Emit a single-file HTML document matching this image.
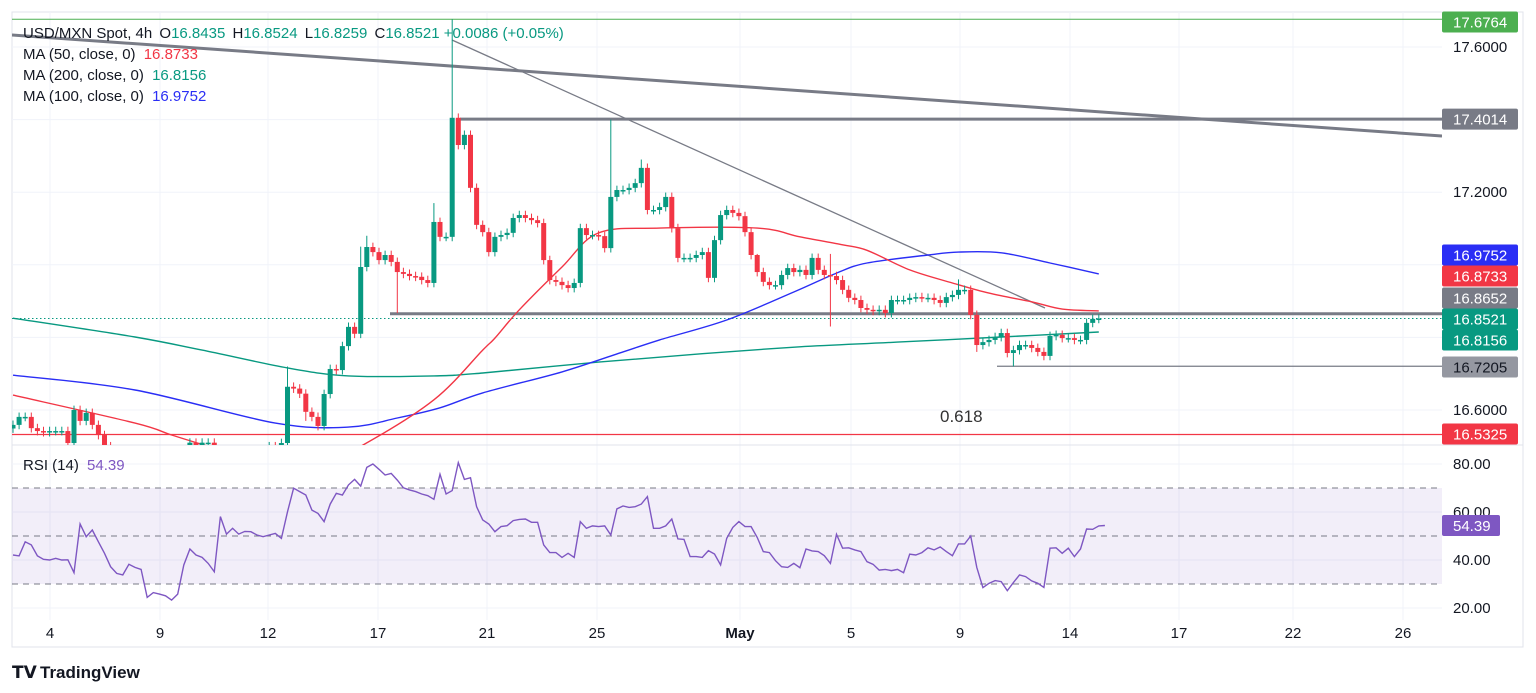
<!DOCTYPE html>
<html><head><meta charset="utf-8"><style>
html,body{margin:0;padding:0;background:#fff;}
svg{display:block;font-family:"Liberation Sans",sans-serif;}
</style></head><body>
<svg id="c" width="1536" height="693" viewBox="0 0 1536 693">
<defs><clipPath id="pclip"><rect x="12" y="12" width="1430" height="433"/></clipPath>
<clipPath id="rclip"><rect x="12" y="446" width="1430" height="200"/></clipPath></defs>
<rect x="12" y="12" width="1511" height="635" fill="#fff" stroke="#e0e3eb"/>
<g id="grid"></g>
<line x1="12" y1="445" x2="1523" y2="445" stroke="#e0e3eb"/>
<rect x="12" y="488" width="1430" height="96" fill="rgba(126,87,194,0.1)"/>
<g id="rsiLines"></g>
<g clip-path="url(#pclip)">
<g id="draw"></g>
<g id="mas"></g>
<g id="candles"></g>
</g>
<g clip-path="url(#rclip)"><g id="rsi"></g></g>
<g id="axis"></g>
<text x="940" y="422" font-size="17" fill="#333">0.618</text>
<g font-size="15">
<text x="23" y="38" fill="#131722">USD/MXN Spot, 4h <tspan fill="#131722" dx="3">O</tspan><tspan fill="#089981">16.8435</tspan> <tspan fill="#131722" dx="3">H</tspan><tspan fill="#089981">16.8524</tspan> <tspan fill="#131722" dx="3">L</tspan><tspan fill="#089981">16.8259</tspan> <tspan fill="#131722" dx="3">C</tspan><tspan fill="#089981">16.8521 +0.0086 (+0.05%)</tspan></text>
<text x="23" y="59" fill="#131722">MA (50, close, 0) <tspan fill="#f23645" dx="4">16.8733</tspan></text>
<text x="23" y="80" fill="#131722">MA (200, close, 0) <tspan fill="#089981" dx="4">16.8156</tspan></text>
<text x="23" y="101" fill="#131722">MA (100, close, 0) <tspan fill="#2a2ef5" dx="4">16.9752</tspan></text>
<text x="23" y="470" fill="#131722">RSI (14) <tspan fill="#7e57c2" dx="4">54.39</tspan></text>
</g>
<g>
<text x="12" y="678" font-size="17" font-weight="bold" fill="#131722">𝗧𝗩</text>
<text x="40" y="678" font-size="17" font-weight="bold" fill="#131722">TradingView</text>
</g>
</svg>
<script>
const closes=[16.559,16.581,16.581,16.550,16.542,16.539,16.542,16.542,16.542,16.509,16.600,16.570,16.592,16.559,16.531,
16.50,16.47,16.45,16.44,16.42,16.43,16.41,16.40,16.42,16.44,16.46,16.48,16.47,16.49,16.51,16.50,16.51,16.51,16.49,16.47,16.45,16.43,16.42,16.44,16.46,16.45,16.48,16.50,16.49,
16.509,16.664,16.659,16.645,16.595,16.581,16.556,16.644,16.713,16.710,16.776,16.829,16.810,16.994,17.049,17.035,17.013,17.027,17.008,16.980,16.975,16.969,16.967,16.958,16.950,17.118,17.077,17.077,17.405,17.330,17.358,17.212,17.11,17.09,17.035,17.077,17.082,17.088,17.129,17.137,17.129,17.123,17.115,
17.013,16.958,16.953,16.944,16.936,16.950,17.101,17.082,17.082,17.079,17.046,17.187,17.206,17.206,17.212,17.225,17.267,17.151,17.151,17.159,17.187,17.101,17.019,17.019,17.019,17.027,17.035,16.964,17.068,17.137,17.151,17.143,17.134,17.090,17.027,16.980,16.953,16.944,16.944,16.972,16.991,16.980,16.986,16.972,17.019,16.986,16.972,16.969,16.958,16.931,16.909,16.903,16.881,16.876,16.873,16.876,16.867,16.903,16.903,16.903,16.909,16.911,16.909,16.909,16.903,16.895,16.911,16.917,16.931,16.931,16.862,16.779,16.787,16.793,16.801,16.812,16.757,16.765,16.779,16.779,16.771,16.760,16.749,16.804,16.807,16.798,16.798,16.793,16.793,16.840,16.851,16.852];
const highOverrides={45:16.72,57:17.05,58:17.08,69:17.17,72:17.676,98:17.40,103:17.29,122:17.03,134:17.03,155:16.96};
const lowOverrides={63:16.867,134:16.83,164:16.72,158:16.76,48:16.57};
const ma50Idx=[0,20,26,32,40,50,57,69,77,79,83,90,96,106,122,129,136,140,147,154,160,167,172,178];
const ma50Val=[16.641,16.564,16.531,16.50,16.46,16.45,16.50,16.628,16.765,16.798,16.876,16.994,17.088,17.101,17.101,17.077,17.055,17.04,16.986,16.950,16.922,16.898,16.878,16.873];
const ma100Idx=[0,20,43,55,63,70,77,90,100,106,117,128,135,140,150,155,162,170,178];
const ma100Val=[16.696,16.655,16.564,16.553,16.578,16.606,16.647,16.705,16.760,16.793,16.848,16.925,16.977,17.005,17.027,17.035,17.033,17.005,16.975];
const ma200Idx=[0,20,31,45,55,69,77,96,113,129,145,162,178];
const ma200Val=[16.853,16.801,16.765,16.716,16.694,16.694,16.702,16.732,16.755,16.774,16.787,16.801,16.815];
const rsiVals=[42.1,41.7,47.6,46.3,41.7,40.3,40.0,40.7,40.0,40.1,34.7,55.0,49.7,52.5,47.6,42.8,37.2,34.4,33.8,38.2,36.9,36.1,24.4,26.4,25.8,25.1,23.3,25.8,37.9,44.6,42.1,41.1,38.6,35.1,58.1,50.8,53.2,50.8,51.9,51.8,50.4,49.7,50.4,51.1,49.0,60.1,69.9,68.5,67.1,60.8,59.4,56.0,63.3,67.8,67.1,71.3,73.6,70.8,78.6,80.0,77.8,75.4,76.1,73.3,70.1,69.2,68.5,67.5,66.8,65.3,75.7,67.5,68.9,80.6,73.6,74.3,62.2,56.7,55.0,51.8,53.9,54.3,56.4,56.9,57.1,55.7,55.7,
46.3,43.1,43.1,41.1,42.8,41.1,56.0,53.2,54.2,53.9,54.2,50.4,61.3,62.5,61.9,62.2,63.3,66.4,53.2,53.2,54.2,57.1,48.8,48.6,41.4,41.4,41.1,43.9,42.5,37.9,49.0,53.6,56.0,53.9,53.9,49.4,43.5,43.1,39.7,37.2,36.9,38.6,36.8,44.6,43.8,43.5,41.8,38.6,50.7,44.9,45.1,44.2,43.5,39.3,38.2,35.8,36.1,35.6,36.1,34.7,42.4,42.1,43.1,45.1,44.2,45.4,43.5,41.8,46.7,46.7,50.0,36.9,28.5,30.3,31.4,31.0,27.2,30.6,33.8,33.1,31.3,30.3,28.6,44.9,45.1,42.8,44.9,41.4,44.6,52.9,52.8,54.2,54.39];
const priceTicks=[17.6,17.4,17.2,17.0,16.8,16.6];
const priceTickLabels=["17.6000","","17.2000","","","16.6000"];
const rsiTicks=[80,60,40,20];
const dateLabels=["4","9","12","17","21","25","May","5","9","14","17","22","26"];
const dateX=[50,160,268,378,487,597,740,851,960,1070,1179,1293,1403];

const NS="http://www.w3.org/2000/svg";
const xOf=i=>13+6.1*i;
const yP=p=>47+(17.6-p)*363;
const yR=v=>536-(v-50)*2.4;
function mk(tag,attrs,parent){const e=document.createElementNS(NS,tag);for(const k in attrs)e.setAttribute(k,attrs[k]);parent.appendChild(e);return e;}
const G=id=>document.getElementById(id);

const grid=G('grid');
priceTicks.forEach(p=>{const l=mk('line',{x1:12,x2:1442,y1:yP(p),y2:yP(p),stroke:'#f0f3fa'},grid);

});
rsiTicks.forEach(v=>{const l=mk('line',{x1:12,x2:1442,y1:yR(v),y2:yR(v),stroke:'#f0f3fa'},grid);

});
dateX.forEach(x=>{const l=mk('line',{x1:x,x2:x,y1:12,y2:620,stroke:'#f0f3fa'},grid);

});

[70,50,30].forEach(v=>{const l=mk('line',{x1:12,x2:1442,y1:yR(v),y2:yR(v),stroke:'#787b86','stroke-dasharray':'6 5'},G('rsiLines'));

});

const dr=G('draw');
function ln(x1,y1,x2,y2,c,w,name,dash){const l=mk('line',{x1,y1,x2,y2,stroke:c,'stroke-width':w},dr);if(dash)l.setAttribute('stroke-dasharray',dash);

return l;}
ln(12,yP(17.6764),1442,yP(17.6764),'#4caf50',1,'high-line');
ln(12,35,1442,136,'#787b86',3,'long-trendline');
ln(452,40,1045,308,'#787b86',1.3,'short-trendline');
ln(460,yP(17.4014),1442,yP(17.4014),'#787b86',3,'resistance-line');
ln(390,yP(16.8652),1442,yP(16.8652),'#787b86',3,'support-line');
ln(997,yP(16.7205),1442,yP(16.7205),'#787b86',1.3,'low-line');
ln(12,yP(16.5325),1442,yP(16.5325),'#f23645',1.3,'fib-line');
ln(12,yP(16.8521),1442,yP(16.8521),'#089981',1,'last-price-line','1.5 2.5');

function smoothPath(pts){let d='M'+pts[0][0].toFixed(1)+','+pts[0][1].toFixed(1);
for(let k=0;k<pts.length-1;k++){const p0=pts[Math.max(0,k-1)],p1=pts[k],p2=pts[k+1],p3=pts[Math.min(pts.length-1,k+2)];
const c1x=p1[0]+(p2[0]-p0[0])/6,c1y=p1[1]+(p2[1]-p0[1])/6,c2x=p2[0]-(p3[0]-p1[0])/6,c2y=p2[1]-(p3[1]-p1[1])/6;
d+=' C'+c1x.toFixed(1)+','+c1y.toFixed(1)+' '+c2x.toFixed(1)+','+c2y.toFixed(1)+' '+p2[0].toFixed(1)+','+p2[1].toFixed(1);}
return d;}
function maLine(idx,val,color,name){const pts=idx.map((i,k)=>[xOf(i),yP(val[k])]);
const p=mk('path',{d:smoothPath(pts),fill:'none',stroke:color,'stroke-width':1.4},G('mas'));

}
maLine(ma200Idx,ma200Val,'#089981','ma200-line');
maLine(ma100Idx,ma100Val,'#2a2ef5','ma100-line');
maLine(ma50Idx,ma50Val,'#f23645','ma50-line');

const cg=G('candles');
closes.forEach((c,i)=>{const o=i===0?c-0.01:closes[i-1];
const up=c>=o;const col=up?'#089981':'#f23645';
const hi=highOverrides[i]!==undefined?highOverrides[i]:Math.max(o,c)+0.012;
const lo=lowOverrides[i]!==undefined?lowOverrides[i]:Math.min(o,c)-0.012;
const x=xOf(i);
const g=mk('g',{},cg);


mk('line',{x1:x,x2:x,y1:yP(hi),y2:yP(lo),stroke:col,'stroke-width':1},g);
const yt=yP(Math.max(o,c)),yb=yP(Math.min(o,c));
mk('rect',{x:x-2.5,y:yt,width:5,height:Math.max(1.5,yb-yt),fill:col},g);});

const rp=mk('polyline',{points:rsiVals.map((v,i)=>xOf(i).toFixed(1)+','+yR(v).toFixed(1)).join(' '),fill:'none',stroke:'#7e57c2','stroke-width':1.4},G('rsi'));



const ax=G('axis');
priceTicks.forEach((p,k)=>{if(!priceTickLabels[k])return;const t=mk('text',{x:1453,y:yP(p)+5,'font-size':15,fill:'#131722'},ax);t.textContent=priceTickLabels[k];

});
rsiTicks.forEach(v=>{const t=mk('text',{x:1453,y:yR(v)+5,'font-size':15,fill:'#131722'},ax);t.textContent=v.toFixed(2);

});
dateLabels.forEach((d,k)=>{const t=mk('text',{x:dateX[k],y:638,'font-size':15,fill:'#131722','text-anchor':'middle'},ax);t.textContent=d;if(d==='May')t.setAttribute('font-weight','bold');

});
function tag(p,label,bg,fg,y,w){const yy=y!==undefined?y:yP(p);const g=mk('g',{},ax);


mk('rect',{x:1442,y:yy-10.5,width:w||76,height:21,fill:bg,rx:2},g);
const t=mk('text',{x:1453,y:yy+5.5,'font-size':15,fill:fg},g);t.textContent=label;}
tag(17.6764,'17.6764','#4caf50','#fff',22);
tag(17.4014,'17.4014','#787b86','#fff');
tag(16.9752,'16.9752','#2a2ef5','#fff',255);
tag(16.8733,'16.8733','#f23645','#fff',276);
tag(16.8652,'16.8652','#787b86','#fff',298);
tag(16.8521,'16.8521','#089981','#fff',319);
tag(16.8156,'16.8156','#089981','#fff',340);
tag(16.7205,'16.7205','#9598a1','#131722',367);
tag(16.5325,'16.5325','#f23645','#fff',434);
tag(0,'54.39','#7e57c2','#fff',yR(54.39),58);
</script>
</body></html>
